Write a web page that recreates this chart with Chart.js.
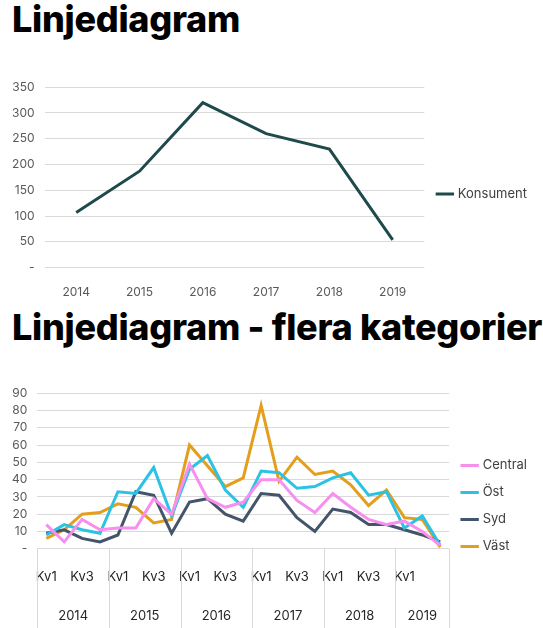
<!DOCTYPE html>
<html><head><meta charset="utf-8">
<script src="https://cdn.jsdelivr.net/npm/chart.js@4"></script>
<style>
body{margin:0;width:543px;height:628px;background:#fff;font-family:Inter,"Open Sans",sans-serif;overflow:hidden;position:relative}
h1{position:absolute;left:12px;margin:0;font:800 36px Inter,sans-serif;color:#000;letter-spacing:-0.3px;white-space:nowrap}
#w1{position:absolute;left:0;top:70px;width:543px;height:240px}
#w2{position:absolute;left:0;top:376px;width:543px;height:252px}
</style></head><body>
<h1 style="top:-3px">Linjediagram</h1>
<h1 style="top:305px">Linjediagram - flera kategorier</h1>
<div id="w1"><canvas id="c1"></canvas></div>
<div id="w2"><canvas id="c2"></canvas></div>
<script>
const years1 = ['2014','2015','2016','2017','2018','2019'];
const konsument = [107,187,320,260,230,54];

const quarters = ['Kv1','Kv2','Kv3','Kv4','Kv1','Kv2','Kv3','Kv4','Kv1','Kv2','Kv3','Kv4','Kv1','Kv2','Kv3','Kv4','Kv1','Kv2','Kv3','Kv4','Kv1','Kv2','Kv3'];
const yearGroups = ['2014','2015','2016','2017','2018','2019'];
const yearStarts = [0,4,8,12,16,20,23];
const central = [14,4,17,11,12,12,29,20,49,29,24,27,40,40,28,21,32,24,17,14,16,10,2];
const ost =     [8,14,11,9,33,32,47,19,46,54,34,24,45,44,35,36,41,44,31,33,12,19,2];
const syd =     [9,11,6,4,8,33,31,9,27,29,20,16,32,31,18,10,23,21,14,14,11,8,4];
const vast =    [6,11,20,21,26,24,15,17,60,48,36,41,83,39,53,43,45,37,25,34,18,17,1];

const tickFont = {family:'Inter, "Open Sans", sans-serif', size:12};
const tickColor = '#595959';
const legendOpts = {position:'right', labels:{usePointStyle:true, pointStyle:'line', boxWidth:26, color:'#404040', font:{family:'Inter, sans-serif', size:13}, padding:14}};
function yTick(v){return v===0?'-':v;}

new Chart(document.getElementById('c1'), {
  type:'line',
  data:{labels:years1, datasets:[{label:'Konsument', data:konsument, borderColor:'#1F4A4C', backgroundColor:'#1F4A4C', borderWidth:3, pointRadius:0, tension:0}]},
  options:{responsive:true, maintainAspectRatio:false, animation:false,
    layout:{padding:{left:2,right:6,top:8}},
    plugins:{legend:legendOpts, tooltip:{enabled:false}},
    scales:{
      x:{offset:true, grid:{display:false}, border:{display:false}, ticks:{color:tickColor, font:tickFont, padding:10}},
      y:{min:0,max:350, ticks:{stepSize:50, color:tickColor, font:tickFont, callback:yTick, padding:10}, grid:{color:'#d9d9d9', drawTicks:false}, border:{display:false}}
    }}
});

const boundaryPlugin = {
  id:'boundaries',
  afterDraw(chart){
    const x = chart.scales.x, ctx = chart.ctx;
    const step = x.getPixelForValue(1) - x.getPixelForValue(0);
    ctx.save(); ctx.strokeStyle='#d9d9d9'; ctx.lineWidth=1;
    yearStarts.forEach(b=>{
      const px = Math.round(x.getPixelForValue(0) + (b-0.5)*step)+0.5;
      ctx.beginPath(); ctx.moveTo(px, chart.chartArea.bottom); ctx.lineTo(px, chart.height); ctx.stroke();
    });
    ctx.restore();
  }
};

new Chart(document.getElementById('c2'), {
  type:'line',
  data:{labels:quarters, datasets:[
    {label:'Central', data:central, borderColor:'#F78FEF', backgroundColor:'#F78FEF'},
    {label:'Öst', data:ost, borderColor:'#2BC2E4', backgroundColor:'#2BC2E4'},
    {label:'Syd', data:syd, borderColor:'#44546A', backgroundColor:'#44546A'},
    {label:'Väst', data:vast, borderColor:'#E39E1C', backgroundColor:'#E39E1C'}
  ].map(d=>Object.assign(d,{borderWidth:3,pointRadius:0,tension:0}))},
  options:{responsive:true, maintainAspectRatio:false, animation:false,
    layout:{padding:{left:2,right:6,top:8}},
    plugins:{legend:legendOpts, tooltip:{enabled:false}},
    scales:{
      x:{offset:true, grid:{display:false}, border:{display:false},
         ticks:{color:'#262626', font:{family:'Inter, sans-serif', size:13}, autoSkip:false, maxRotation:0, padding:12,
           callback:(v,i)=> (i%2===0 && i!==22) ? quarters[i] : ''}},
      x2:{type:'linear', position:'bottom', min:-0.5, max:22.5, grid:{display:false}, border:{display:false},
         afterBuildTicks(s){ s.ticks = yearGroups.map((y,i)=>({value:(yearStarts[i]+yearStarts[i+1]-1)/2})); },
         ticks:{color:'#262626', font:{family:'Inter, sans-serif', size:13}, padding:4,
           callback:(v)=>{const i=yearGroups.findIndex((y,k)=>(yearStarts[k]+yearStarts[k+1]-1)/2===v); return i>=0?yearGroups[i]:'';}}},
      y:{min:0,max:90, ticks:{stepSize:10, autoSkip:false, color:tickColor, font:tickFont, callback:yTick, padding:10}, grid:{color:'#d9d9d9', drawTicks:false}, border:{display:false}}
    }},
  plugins:[boundaryPlugin]
});
</script></body></html>
